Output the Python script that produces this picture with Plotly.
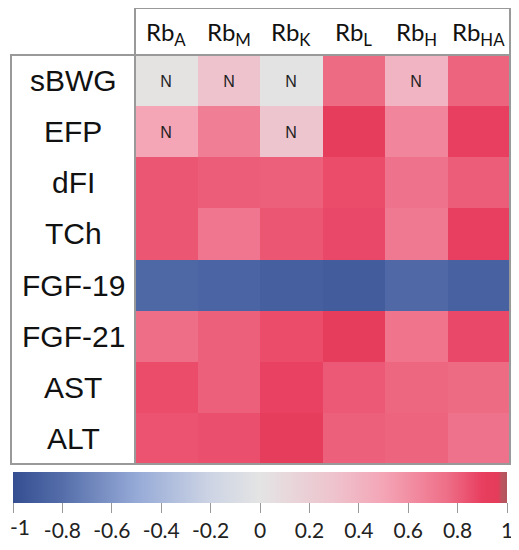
import plotly.graph_objects as go

# the page has an 8px body margin, so the figure is drawn 8px in and down
OFF = 8
W, H = 519 - OFF, 550 - OFF

rows = ["sBWG", "EFP", "dFI", "TCh", "FGF-19", "FGF-21", "AST", "ALT"]
cols = ["A", "M", "K", "L", "H", "HA"]

# correlation coefficients (row by row)
r_sbwg = [0.02, 0.30, 0.01, 0.77, 0.40, 0.79]
r_efp = [0.50, 0.68, 0.28, 0.92, 0.65, 0.90]
r_dfi = [0.83, 0.81, 0.80, 0.86, 0.74, 0.81]
r_tch = [0.83, 0.72, 0.83, 0.87, 0.71, 0.90]
r_fgf19 = [-0.84, -0.86, -0.89, -0.91, -0.83, -0.88]
r_fgf21 = [0.76, 0.80, 0.86, 0.93, 0.73, 0.87]
r_ast = [0.86, 0.80, 0.89, 0.82, 0.78, 0.77]
r_alt = [0.84, 0.85, 0.93, 0.80, 0.79, 0.74]

# "N" = not significant
ns_sbwg = ["N", "N", "N", "", "N", ""]
ns_efp = ["N", "", "N", "", "", ""]

tick_vals = [-1, -0.8, -0.6, -0.4, -0.2, 0, 0.2, 0.4, 0.6, 0.8, 1]
tick_text = ["-1", "-0.8", "-0.6", "-0.4", "-0.2", "0", "0.2", "0.4", "0.6", "0.8", "1"]

z = [r_sbwg, r_efp, r_dfi, r_tch, r_fgf19, r_fgf21, r_ast, r_alt]
txt = [ns_sbwg, ns_efp] + [[""] * 6 for _ in range(6)]

cscale = [
    [0.0, "rgb(52,78,145)"],
    [0.1, "rgb(85,110,170)"],
    [0.25, "rgb(150,170,215)"],
    [0.4, "rgb(205,212,228)"],
    [0.5, "rgb(228,228,228)"],
    [0.65, "rgb(238,195,205)"],
    [0.75, "rgb(244,165,182)"],
    [0.88, "rgb(238,110,135)"],
    [0.95, "rgb(232,62,95)"],
    [0.982, "rgb(228,60,90)"],
    [0.99, "rgb(185,85,95)"],
    [1.0, "rgb(180,85,95)"],
]

def px(x):
    return (x - OFF) / W

def py(y):
    return 1 - (y - OFF) / H

x0, x1 = 135, 510
y0, y1 = 55, 464

fig = go.Figure(go.Heatmap(
    z=z,
    x=cols,
    y=rows,
    text=txt,
    texttemplate="%{text}",
    textfont=dict(family="Liberation Sans", size=16, color="#222"),
    zmin=-1, zmax=1,
    colorscale=cscale,
    xgap=0, ygap=0,
    colorbar=dict(
        orientation="h",
        x=px((13 + 507) / 2), xanchor="center",
        y=py(472), yanchor="top",
        lenmode="pixels", len=494,
        thickness=31,
        xpad=0, ypad=0,
        outlinewidth=0,
        ticks="outside", ticklen=10, tickcolor="#999", tickwidth=1,
        tickvals=tick_vals,
        ticktext=tick_text,
        tickfont=dict(family="Lato", size=21, color="#222"),
    ),
))

fig.update_layout(
    width=W, height=H,
    margin=dict(l=0, r=0, t=0, b=0, autoexpand=False),
    paper_bgcolor="white", plot_bgcolor="white",
    xaxis=dict(domain=[px(x0), px(x1)], visible=False),
    yaxis=dict(domain=[py(y1), py(y0)], visible=False, autorange="reversed"),
    showlegend=False,
)

line = dict(color="#999", width=2)
fig.add_shape(type="rect", xref="paper", yref="paper",
              x0=px(x0), x1=px(x1), y0=py(y0), y1=py(8), line=line)
fig.add_shape(type="rect", xref="paper", yref="paper",
              x0=px(11), x1=px(x0), y0=py(y1), y1=py(y0), line=line)
fig.add_shape(type="rect", xref="paper", yref="paper",
              x0=px(x0), x1=px(x1), y0=py(y1), y1=py(y0), line=line)

cw = (x1 - x0) / len(cols)
for i, c in enumerate(cols):
    fig.add_annotation(
        x=px(x0 + cw * (i + 0.5)), y=py(33), xref="paper", yref="paper",
        xanchor="center", yanchor="middle",
        text="Rb<sub>" + c + "</sub>", showarrow=False,
        font=dict(family="Lato", size=24, color="#111"),
    )

rh = (y1 - y0) / len(rows)
for j, r in enumerate(rows):
    fig.add_annotation(
        x=px(73), y=py(y0 + rh * (j + 0.5)), xref="paper", yref="paper",
        xanchor="center", yanchor="middle",
        text=r, showarrow=False,
        font=dict(family="Liberation Sans", size=30, color="#111"),
    )

# plotly drops the "-1" tick label at the page edge, so put it back by hand
fig.add_annotation(
    x=0, y=py(526), xref="paper", yref="paper",
    xanchor="left", yanchor="middle",
    text=tick_text[0], showarrow=False,
    font=dict(family="Lato", size=21, color="#222"),
)

fig.write_html("out.html")
